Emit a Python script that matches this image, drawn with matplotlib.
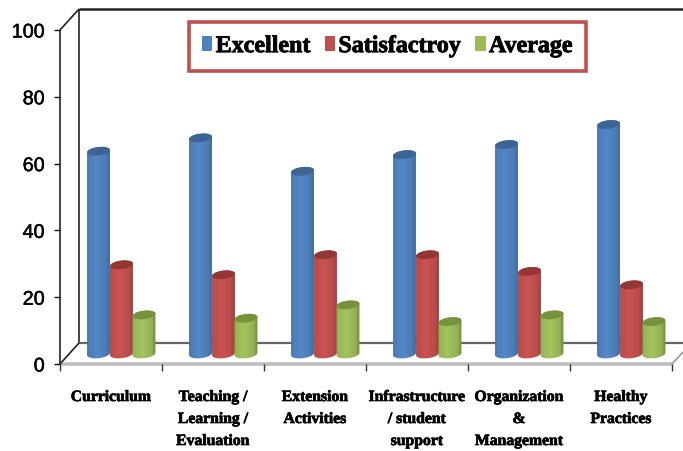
import numpy as np
import matplotlib
matplotlib.use("Agg")
import matplotlib.pyplot as plt
import matplotlib.patheffects as pe
from matplotlib.patches import Polygon, Patch
from matplotlib.colors import to_rgb

categories = ["Curriculum", "Teaching /\nLearning /\nEvaluation", "Extension\nActivities",
              "Infrastructure\n/ student\nsupport", "Organization\n&\nManagement", "Healthy\nPractices"]
series_names = ["Excellent", "Satisfactroy", "Average"]
excellent = [62, 66, 56, 61, 64, 70]
satisfactory = [28, 25, 31, 31, 26, 22]
average = [13, 12, 16, 11, 13, 11]
series_values = [excellent, satisfactory, average]
colors = ["#4F81BD", "#C0504D", "#9BBB59"]
top_colors = ["#3C6494", "#943634", "#76923C"]
y_ticks = [0, 20, 40, 60, 80, 100]

W, H = 683, 451
fig = plt.figure(figsize=(W / 100, H / 100), dpi=100)
L, R, T, B = 60, 672, 30, 364
ax = fig.add_axes([L / W, 1 - B / H, (R - L) / W, (B - T) / H])
PX = (R - L) / 6       # pixels per category
PY = (B - T) / 100     # pixels per value unit
for s in ax.spines.values():
    s.set_visible(False)

DX, DY = 19 / PX, 21 / PY   # depth of the 3-D box
XR = (683 - L) / PX         # right end of the clipped back wall
BASE = 3.0
LIFT = 1.7
BW = 23 / PX
STARTS = [27 / PX, 50 / PX, 72.5 / PX]


def line(xs, ys, color, lw, z=1):
    ax.plot(xs, ys, color=color, lw=lw, clip_on=False, zorder=z, solid_capstyle="butt")


line([0, 0], [0, 100], "#222222", 1.2)
line([DX, DX], [DY, 100 + DY], "#222222", 1.2)
line([0, DX], [100, 100 + DY], "#222222", 1.2)
line([DX, XR], [100 + DY, 100 + DY], "#222222", 1.8)
line([DX, XR], [DY, DY], "#666666", 1.6)
line([0, 6], [0, 0], "#BDBDBD", 2.6)
line([0, DX], [0, DY], "#222222", 1.2)
line([6, XR], [0, 12 / PY], "#999999", 1.2)


def ellipse_arc(cx, cy, t):
    a, b, tilt = BW * PX / 2, 4.2, np.deg2rad(7)
    x = a * np.cos(t) * np.cos(tilt) - b * np.sin(t) * np.sin(tilt)
    y = a * np.cos(t) * np.sin(tilt) + b * np.sin(t) * np.cos(tilt)
    return cx + x / PX, cy + y / PY


def cylinder(x0, value, color, top, z):
    cx = x0 + BW / 2
    ytop = value + LIFT
    xl, yl = ellipse_arc(cx, BASE, np.linspace(np.pi, 2 * np.pi, 30))
    xu, yu = ellipse_arc(cx, ytop, np.linspace(0, np.pi, 30))
    body = Polygon(np.c_[np.r_[xl, xu], np.r_[yl, yu]], closed=True, transform=ax.transData,
                   fc="none", ec="none")
    ax.add_patch(body)
    u = np.linspace(0, 1, 40)
    shade = np.interp(u, [0, 0.1, 0.42, 0.8, 1], [0.84, 0.97, 1.05, 0.95, 0.68])
    img = np.clip(np.outer(shade, to_rgb(color)), 0, 1)[None, :, :]
    im = ax.imshow(img, extent=[x0 - 0.01, x0 + BW + 0.01, BASE - 3, ytop + 3], aspect="auto",
                   origin="lower", zorder=z, interpolation="bilinear")
    im.set_clip_path(body)
    xe, ye = ellipse_arc(cx, ytop, np.linspace(0, 2 * np.pi, 60))
    ax.add_patch(Polygon(np.c_[xe, ye], closed=True, fc=top, ec="none", zorder=z + 0.1))


for i in range(len(categories)):
    for j, vals in enumerate(series_values):
        cylinder(i + STARTS[j], vals[i], colors[j], top_colors[j], 3 + j)

ax.set_xlim(0, 6)
ax.set_ylim(0, 100)
ax.patch.set_alpha(0)

heavy = [pe.withStroke(linewidth=0.5, foreground="black")]
ax.set_xticks(range(7))
ax.set_xticklabels([])
ax.tick_params(axis="x", which="major", length=5.2, width=1, color="#333333", direction="out")
ax.set_xticks(np.arange(6) + 0.5, minor=True)
ax.set_xticklabels(categories, minor=True, family="Liberation Serif", fontweight="bold",
                   fontsize=11.3, linespacing=1.5, va="top", path_effects=heavy)
ax.tick_params(axis="x", which="minor", length=0, pad=18)
ax.set_yticks(y_ticks)
ax.set_yticklabels([str(v) for v in y_ticks], family="Liberation Sans", fontsize=14.2,
                   path_effects=[pe.withStroke(linewidth=0.35, foreground="black")])
ax.tick_params(axis="y", length=4, width=1, color="#111111", pad=7)

handles = [Patch(fc=c, ec="none") for c in colors]
leg = ax.legend(handles, series_names, ncol=3, loc="center",
                bbox_to_anchor=((387.5 - L) / (R - L), (B - 46.5) / (B - T)),
                bbox_transform=ax.transAxes,
                prop={"family": "Liberation Serif", "weight": "bold", "size": 17.3},
                frameon=True, fancybox=False, framealpha=1, edgecolor="#C0504D",
                handlelength=0.42, handleheight=0.62, handletextpad=0.14, columnspacing=0.6,
                borderpad=0.56, borderaxespad=0)
leg.get_frame().set_linewidth(2.6)
leg.set_zorder(10)
for t in leg.get_texts():
    t.set_path_effects([pe.withStroke(linewidth=0.6, foreground="black")])

fig.savefig("out.png", dpi=100)
